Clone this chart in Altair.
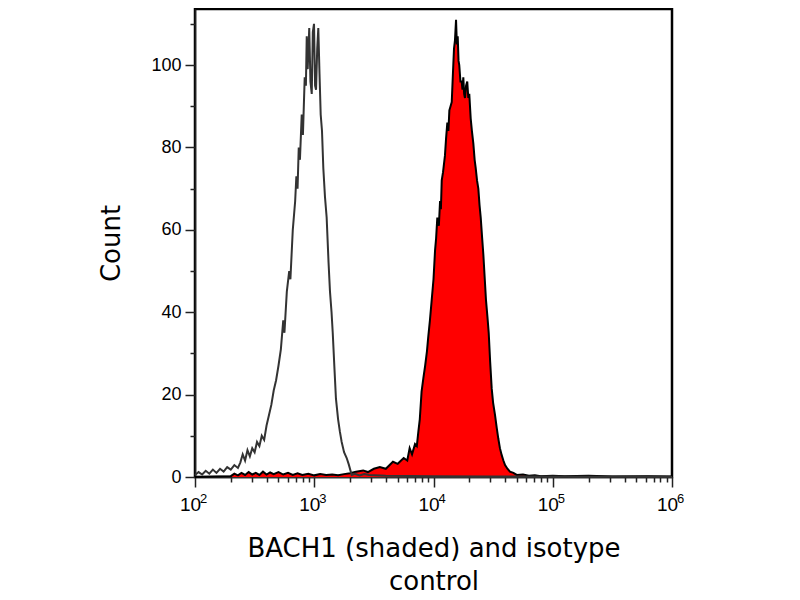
import altair as alt
import pandas as pd
import json

# ---- data (x as log10 intensity, y as count) ----
iso_log = [2.00, 2.03, 2.06, 2.09, 2.12, 2.15, 2.18, 2.21, 2.24, 2.27, 2.30, 2.33, 2.36, 2.38,
           2.40, 2.42, 2.44, 2.46, 2.48, 2.50, 2.52, 2.54, 2.56, 2.58, 2.60, 2.62, 2.64, 2.66,
           2.68, 2.70, 2.72, 2.74, 2.75, 2.77, 2.79, 2.80, 2.82, 2.84, 2.85, 2.86, 2.87, 2.88,
           2.895, 2.905, 2.92, 2.93, 2.937, 2.945, 2.958, 2.968, 2.979, 2.988, 2.998, 3.007,
           3.015, 3.025, 3.034, 3.044, 3.054, 3.065, 3.076, 3.09, 3.104, 3.12, 3.132, 3.145,
           3.155, 3.17, 3.182, 3.20, 3.215, 3.23, 3.25, 3.272, 3.29, 3.314, 3.34, 3.38, 3.42,
           3.46, 3.6, 4.0, 4.5, 5.0, 6.0]
iso_cnt = [0.5, 1.2, 0.6, 1.5, 0.8, 1.8, 1.0, 2.0, 1.3, 2.4, 1.8, 2.9, 2.2, 3.5,
           5.5, 4.0, 6.5, 5.0, 7.0, 6.0, 8.5, 7.5, 10.0, 9.0, 12.5, 15.0, 17.5, 21.0,
           23.5, 27.0, 31.0, 38.0, 35.0, 45.0, 50.0, 48.0, 60.0, 67.0, 73.0, 70.0, 80.0, 77.0,
           88.0, 83.0, 97.0, 95.0, 107.0, 99.0, 109.0, 96.0, 93.0, 108.0, 110.0, 95.0,
           94.0, 104.0, 109.0, 98.0, 88.0, 84.0, 75.0, 68.0, 63.0, 52.0, 45.0, 40.0,
           35.0, 26.0, 19.0, 14.0, 11.0, 8.5, 6.0, 4.6, 3.0, 0.5, 0.8, 0.4, 0.7,
           0.5, 0.3, 0.2, 0.1, 0.1, 0.0]

bach_log = [2.00, 2.30, 2.33, 2.36, 2.39, 2.42, 2.45, 2.48, 2.51, 2.54, 2.57, 2.60, 2.63, 2.66,
            2.70, 2.74, 2.78, 2.82, 2.86, 2.90, 2.95, 3.00, 3.05, 3.10, 3.15, 3.20, 3.25, 3.30,
            3.35, 3.41, 3.45, 3.50, 3.55, 3.60, 3.66, 3.70, 3.75, 3.78, 3.80, 3.82, 3.845, 3.86,
            3.873, 3.885, 3.90, 3.915, 3.93, 3.945, 3.956, 3.97, 3.985, 4.00, 4.013, 4.022,
            4.032, 4.045, 4.055, 4.062, 4.069, 4.08, 4.096, 4.105, 4.116, 4.125, 4.133, 4.143,
            4.153, 4.163, 4.172, 4.18, 4.189, 4.196, 4.203, 4.21, 4.216, 4.226, 4.236, 4.243,
            4.250, 4.257, 4.264, 4.273, 4.283, 4.292, 4.300, 4.312, 4.322, 4.334, 4.345, 4.354,
            4.365, 4.376, 4.386, 4.396, 4.408, 4.418, 4.43, 4.440, 4.452, 4.463, 4.475, 4.488,
            4.50, 4.516, 4.53, 4.543, 4.557, 4.572, 4.586, 4.600, 4.62, 4.641, 4.67, 4.698,
            4.75, 4.80, 4.85, 4.90, 5.00, 5.10, 5.30, 5.50, 5.80, 6.00]
bach_cnt = [0.0, 0.2, 0.8, 0.4, 1.0, 0.5, 1.2, 0.6, 1.0, 0.5, 1.3, 0.6, 1.1, 0.7,
            1.2, 0.6, 1.0, 0.5, 0.9, 0.5, 0.8, 0.4, 0.7, 0.5, 0.6, 0.4, 0.7, 0.9,
            1.3, 1.6, 1.2, 2.0, 2.4, 2.0, 3.7, 3.2, 4.6, 4.0, 7.0, 5.5, 8.0, 7.5,
            11.0, 14.0, 20.7, 24.0, 27.0, 30.5, 34.0, 38.0, 43.0, 48.0, 55.0, 58.0,
            63.0, 61.0, 67.0, 65.0, 72.0, 74.0, 78.0, 82.0, 86.0, 84.0, 89.0, 90.0,
            91.0, 98.0, 104.0, 106.0, 111.0, 105.0, 107.0, 101.0, 100.0, 96.0, 96.0, 94.0,
            97.0, 93.0, 92.0, 95.0, 96.0, 92.0, 93.0, 87.0, 84.0, 81.0, 77.0, 75.0,
            72.0, 70.0, 66.0, 63.0, 58.0, 54.0, 48.0, 43.0, 39.0, 35.0, 28.0, 21.5,
            18.0, 15.0, 12.0, 9.4, 7.0, 5.3, 4.0, 2.9, 2.0, 1.3, 1.0, 0.5,
            0.6, 0.3, 0.4, 0.2, 0.3, 0.2, 0.3, 0.1, 0.2, 0.1]

x_major = [100, 1000, 10000, 100000, 1000000]
x_base = "10"
x_exponents = ["2", "3", "4", "5", "6"]
x_minor = [m * 10 ** k for k in range(2, 6) for m in range(2, 10)]
y_major = [0, 20, 40, 60, 80, 100]
y_minor = [10, 30, 50, 70, 90, 110]

iso = pd.DataFrame({"x": [10 ** v for v in iso_log], "y": iso_cnt})
bach = pd.DataFrame({"x": [10 ** v for v in bach_log], "y": bach_cnt})

sup_expr = "{}[indexof({}, datum.value)]".format(json.dumps(x_exponents), json.dumps(x_major))

xscale = alt.Scale(type="log", domain=[100, 1000000], nice=False)
yscale = alt.Scale(domain=[0, 113.6], nice=False, zero=True)

label_font = "Liberation Sans Narrow, Liberation Sans, Arial, sans-serif"

x_major_axis = alt.Axis(values=x_major, labelExpr="'" + x_base + "'", tickSize=10, tickWidth=1.5,
                        tickColor="#222", domainColor="#333", domainWidth=1.5,
                        labelFont=label_font, labelFontSize=19, labelColor="#000",
                        labelPadding=8, labelOffset=-5, labelFlush=False, labelOverlap=False,
                        grid=False, orient="bottom",
                        title=["BACH1 (shaded) and isotype", "control"],
                        titleFont="DejaVu Sans", titleFontSize=26, titleFontWeight="normal",
                        titleColor="#000", titlePadding=21, titleLineHeight=33)
y_major_axis = alt.Axis(values=y_major, tickSize=10, tickWidth=1.5, tickColor="#222",
                        domainColor="#222", domainWidth=1.5,
                        labelFont="Liberation Sans", labelFontSize=18, labelColor="#000",
                        labelPadding=4, grid=False, orient="left",
                        title="Count", titleFont="DejaVu Sans", titleFontSize=26,
                        titleFontWeight="normal", titleColor="#000", titlePadding=26)

x_minor_axis = alt.Axis(values=x_minor, tickSize=5, tickWidth=1.5, tickColor="#222",
                        labels=False, domain=False, grid=False, orient="bottom", title=None)
y_minor_axis = alt.Axis(values=y_minor, tickSize=5, tickWidth=1.5, tickColor="#222",
                        labels=False, domain=False, grid=False, orient="left", title=None)
x_sup_axis = alt.Axis(values=x_major, labelExpr=sup_expr, ticks=False, tickSize=0,
                      domain=False, grid=False, orient="bottom", title=None,
                      labelFont=label_font, labelFontSize=13, labelColor="#000",
                      labelPadding=15, labelOffset=8, labelFlush=False, labelOverlap=False)

area = alt.Chart(bach).mark_area(color="#ff0000", interpolate="linear").encode(
    x=alt.X("x:Q", scale=xscale, axis=x_major_axis),
    y=alt.Y("y:Q", scale=yscale, axis=y_major_axis),
)
outline = alt.Chart(bach).mark_line(color="#000000", strokeWidth=2).encode(
    x=alt.X("x:Q", scale=xscale, axis=x_minor_axis),
    y=alt.Y("y:Q", scale=yscale, axis=y_minor_axis),
)
iso_line = alt.Chart(iso).mark_line(color="#333333", strokeWidth=2).encode(
    x=alt.X("x:Q", scale=xscale, axis=x_sup_axis),
    y=alt.Y("y:Q", scale=yscale, axis=None),
)

chart = alt.layer(area, outline, iso_line).resolve_axis(
    x="independent", y="independent"
).properties(
    width=477, height=468,
    autosize=alt.AutoSizeParams(type="none"),
    padding={"left": 187, "top": 1, "right": 120, "bottom": 123},
).configure_view(stroke="#000", strokeWidth=2.5)

chart.save("out.html", embed_options={"renderer": "svg", "actions": False})
